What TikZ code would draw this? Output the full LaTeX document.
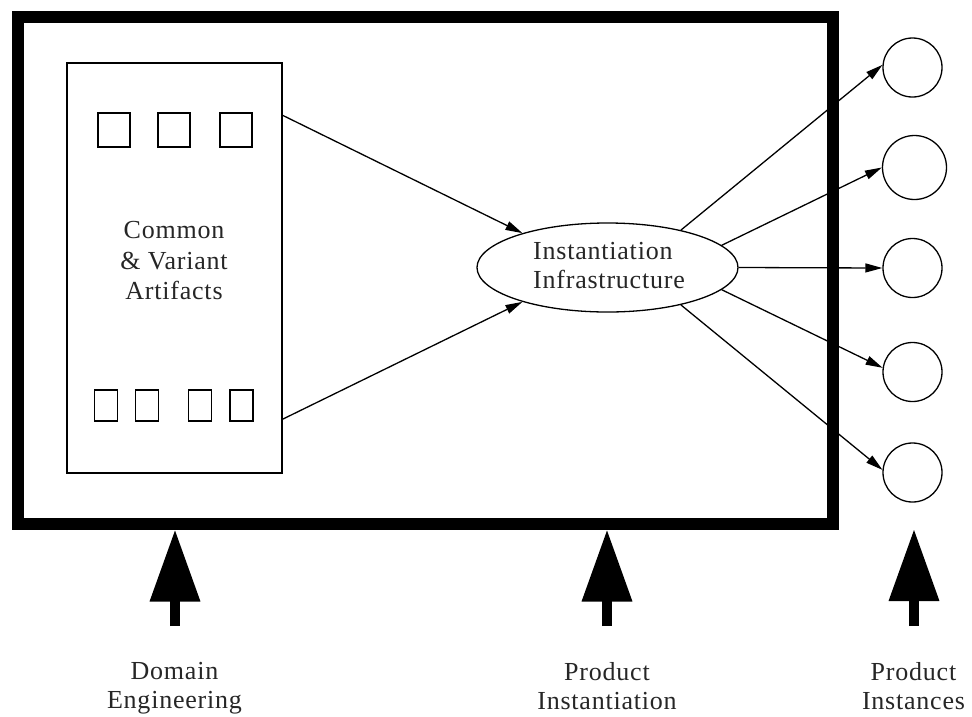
\documentclass[tikz,border=0pt]{standalone}
\usepackage{fontspec}
\setmainfont{Liberation Serif}[LetterSpace=3]
\usetikzlibrary{arrows.meta,shapes.geometric}
\begin{document}
\begin{tikzpicture}[x=1pt,y=-1pt,
  lbl/.style={font=\fontsize{26}{29}\selectfont, align=center, text=black!85, inner sep=0pt, anchor=north},
  frame/.style={draw, line width=12pt, inner sep=0pt},
  artbox/.style={draw, line width=1.5pt, inner sep=0pt, minimum width=215pt, minimum height=410pt},
  sq/.style={draw, line width=1.8pt, inner sep=0pt, minimum width=32pt, minimum height=34pt},
  sqs/.style={draw, line width=1.8pt, inner sep=0pt, minimum width=23pt, minimum height=31pt},
  ell/.style={draw, ellipse, line width=1.3pt, inner sep=0pt, minimum width=261pt, minimum height=89pt},
  inst/.style={draw, circle, line width=1.3pt, inner sep=0pt, minimum size=59pt},
  conn/.style={line width=1.3pt, -{Triangle[length=17pt,width=9pt]}},
  bigarrow/.style={line width=10pt, -{Triangle[length=72pt,width=48pt]}}
]
\useasboundingbox (0,0) rectangle (972,716);

% outer frame
\node[frame, minimum width=815pt, minimum height=506.5pt] (fr) at (425.5,270.25) {};

% artifacts box
\node[artbox] (art) at (174.5,268) {};
\node[sq] (t1) at (114,130) {};
\node[sq] (t2) at (174,130) {};
\node[sq] (t3) at (236,130) {};
\node[sqs] (b1) at (106,405.5) {};
\node[sqs] (b2) at (147,405.5) {};
\node[sqs] (b3) at (200,405.5) {};
\node[sqs] (b4) at (241.5,405.5) {};
\node[lbl, font=\fontsize{26}{30.5}\selectfont] (artlbl) at (174,221.5) {Common\\\& Variant\\Artifacts};

% instantiation infrastructure
\node[ell] (ii) at (607.5,267.5) {};
\node[lbl, align=left, anchor=north west] (iilbl) at (533,242) {Instantiation\\Infrastructure};

% product instances
\node[inst] (c1) at (912.5,67.5) {};
\node[inst, minimum size=64pt] (c2) at (914.5,167.5) {};
\node[inst] (c3) at (912.5,268) {};
\node[inst] (c4) at (912.5,372) {};
\node[inst] (c5) at (912.5,472.5) {};

% connectors
\coordinate (a1) at (282,115);
\coordinate (a2) at (282,419.5);
\draw[conn] (a1) -- (ii.158);
\draw[conn] (a2) -- (ii.202);
\draw[conn] (ii.27) -- (c1.175);
\draw[conn] (ii.11) -- (c2.180);
\draw[conn] (ii.0) -- (c3.180);
\draw[conn] (ii.-11) -- (c4.172);
\draw[conn] (ii.-27.5) -- (c5.175);

% big arrows
\coordinate (d0) at (175,626);
\coordinate (d1) at (175,529.5);
\coordinate (p0) at (607,626);
\coordinate (p1) at (607,529.5);
\coordinate (q0) at (914,626);
\coordinate (q1) at (914,529);
\draw[bigarrow] (d0) -- (d1);
\draw[bigarrow] (p0) -- (p1);
\draw[bigarrow] (q0) -- (q1);

% labels
\node[lbl] (dlbl) at (174.5,662.5) {Domain\\Engineering};
\node[lbl] (plbl) at (607,662.5) {Product\\Instantiation};
\node[lbl] (ilbl) at (913.5,662.5) {Product\\Instances};
\end{tikzpicture}
\end{document}
